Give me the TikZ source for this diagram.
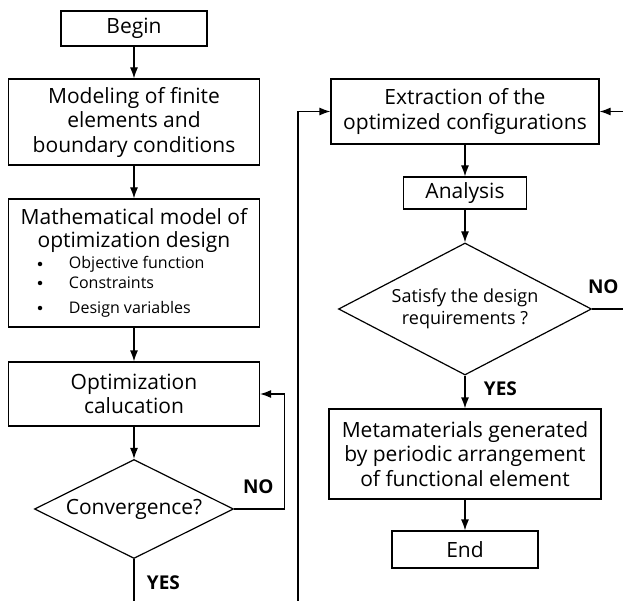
\documentclass[tikz,border=0pt]{standalone}
\usepackage{fontspec}
\setmainfont{Open Sans}
\usetikzlibrary{shapes.geometric,arrows.meta}

\tikzset{
  box/.style={draw, line width=1.2pt, inner sep=0pt, align=center,
    font=\fontsize{21}{24.5}\selectfont},
  cond/.style={draw, diamond, line width=1.2pt, inner sep=0pt, align=center,
    font=\fontsize{21}{24.5}\selectfont},
  answer/.style={font=\fontsize{19}{20}\selectfont\bfseries, anchor=base west},
  item/.style={font=\fontsize{16}{18}\selectfont, anchor=base west},
  dot/.style={circle, fill, inner sep=0pt, minimum size=4.5pt},
}

\begin{document}
\begin{tikzpicture}[x=1pt, y=-1pt, line width=1.2pt, >={Latex[length=11pt,width=8pt]}]
\clip (0,0) rectangle (623,601);
% left column
\node[box, minimum width=146pt, minimum height=35pt] (begin) at (134,28.5) {Begin};
\node[box, minimum width=251pt, minimum height=86pt] (model) at (134,122)
  {Modeling of finite\\elements and\\boundary conditions};
\node[box, minimum width=251pt, minimum height=128pt] (math) at (134,263) {};
\node[align=center, font=\fontsize{21}{23}\selectfont] (mathtitle) at (134,230)
  {Mathematical model of\\optimization design};
\foreach \y/\t in {269/Objective function,288/Constraints,313/Design variables}
{
  \node[dot] at (40,\y-5) {};
  \node[item] at (65,\y) {\t};
}
\node[box, minimum width=251pt, minimum height=64pt] (optim) at (134,394)
  {Optimization\\calucation};
\node[cond, shape aspect=2, minimum width=199pt, minimum height=99pt] (conv) at (134,509)
  {Convergence?};

% right column
\node[box, minimum width=268pt, minimum height=65pt] (extr) at (465,111.5)
  {Extraction of the\\optimized configurations};
\node[box, minimum width=123pt, minimum height=32pt] (anal) at (465,193) {Analysis};
\node[cond, shape aspect=1.92, minimum width=253pt, minimum height=132pt,
  font=\fontsize{18}{22}\selectfont] (sat) at (465,309)
  {Satisfy the design\\requirements ?};
\node[box, minimum width=272pt, minimum height=90pt] (meta) at (465,454)
  {Metamaterials generated\\by periodic arrangement\\of functional element};
\node[box, minimum width=146pt, minimum height=37pt] (end) at (465,549.5) {End};

\coordinate (turn) at (298,640);

\draw[->] (begin) -- (model);
\draw[->] (model) -- (math);
\draw[->] (math) -- (optim);
\draw[->] (optim) -- (conv);
\draw[->] (conv.east) node[answer, xshift=5pt, yshift=16pt] {NO} -- ++(50,0) |- (optim.east);
\draw[->] (conv.south) node[answer, xshift=9pt, yshift=-30pt] {YES} |- (turn) |- (extr.west);

\draw[->] (extr) -- (anal);
\draw[->] (anal) -- (sat);
\draw[->] (sat.east) node[answer, xshift=-8pt, yshift=15pt] {NO} -- ++(60,0) |- (extr.east);
\draw[->] (sat.south) node[answer, xshift=15pt, yshift=-20pt] {YES} -- (meta);
\draw[->] (meta) -- (end);
\end{tikzpicture}
\end{document}
